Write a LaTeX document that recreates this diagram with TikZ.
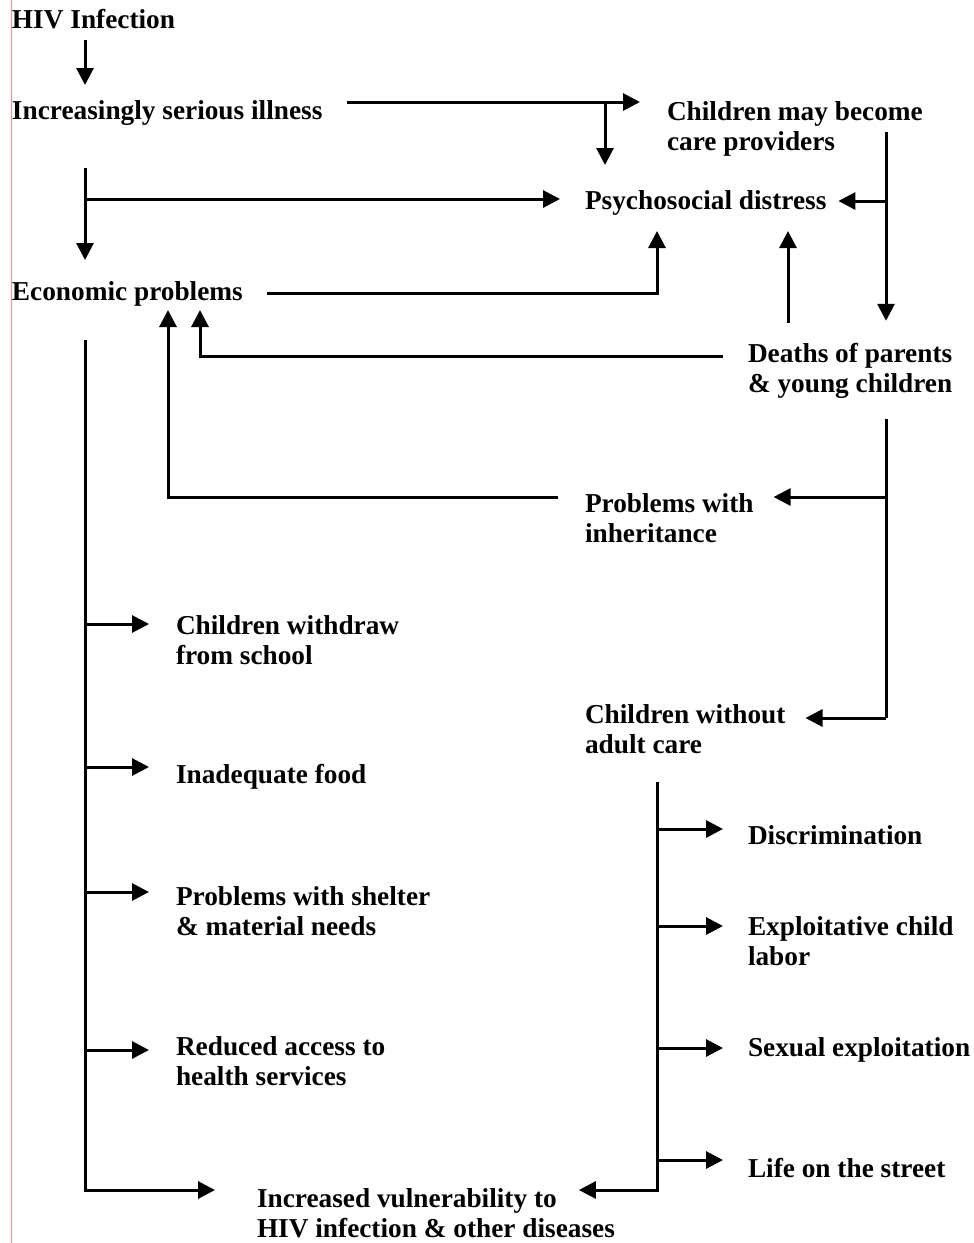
\documentclass[tikz,border=0pt]{standalone}
\usepackage{fontspec}
\setmainfont{Liberation Serif}
\usetikzlibrary{arrows.meta,positioning,calc}

\begin{document}
\begin{tikzpicture}[x=1pt,y=-1pt]
\tikzset{testo/.style={font=\bfseries\fontsize{27.3}{30}\selectfont, align=left, inner sep=0pt, outer sep=0pt, anchor=base west}, }
\tikzset{filo/.style={line width=3pt}, }
\tikzset{linea/.style={filo,-{Triangle[length=17pt,width=17pt]}}, }
\definecolor{rosa}{RGB}{236,150,150}
\tikzset{bordo/.style={line width=1pt, draw=rosa}, }

\useasboundingbox (0,0) rectangle (974,1243);
\draw[bordo] (11,0) -- (11,1243);

% testi (base = ultima riga)
\node[testo] (hiv) at (12,28) {HIV Infection};
\node[testo] (illness) at (12,119) {Increasingly serious illness};
\node[testo] (carers) at (667,150) {Children may become\\care providers};
\node[testo] (distress) at (585,209) {Psychosocial distress};
\node[testo] (economic) at (12,300) {Economic problems};
\node[testo] (deaths) at (748,392) {Deaths of parents\\\& young children};
\node[testo] (inherit) at (585,542) {Problems with\\inheritance};
\node[testo] (withdraw) at (176,664) {Children withdraw\\from school};
\node[testo] (nocare) at (585,753) {Children without\\adult care};
\node[testo] (food) at (176,783) {Inadequate food};
\node[testo] (discrim) at (748,844) {Discrimination};
\node[testo] (shelter) at (176,935) {Problems with shelter\\\& material needs};
\node[testo] (labor) at (748,965) {Exploitative child\\labor};
\node[testo] (health) at (176,1085) {Reduced access to\\health services};
\node[testo] (sexual) at (748,1056) {Sexual exploitation};
\node[testo] (street) at (748,1177) {Life on the street};
\node[testo] (vulner) at (257,1237) {Increased vulnerability to\\HIV infection \& other diseases};

% incroci
\coordinate (j1) at (605,102);
\coordinate (j2) at (85,199);
\coordinate (j3) at (657,293);
\coordinate (j4) at (886,201);
\coordinate (j5) at (200,356);
\coordinate (j6) at (886,497);
\coordinate (j7) at (168,497);
\coordinate (j8) at (886,718);
\coordinate (j9) at (85,1190);
\coordinate (j10) at (657,1190);
\coordinate (jm) at (788,0);

% frecce
\draw[linea, shorten <=12pt, shorten >=34pt] (hiv.base -| j2) -- (illness.base -| j2);
\draw[linea, shorten <=25pt, shorten >=27pt] (illness.east |- j1) -- (carers.west |- j1);
\draw[linea, shorten >=44pt] (j1) -- (j1 |- distress.base);
\draw[linea, shorten <=49pt, shorten >=40pt] (j2 |- illness.base) -- (j2 |- economic.base);
\draw[linea, shorten >=25pt] (j2) -- (distress.west |- j2);
\draw[linea, shorten <=24pt, shorten >=22pt] (economic.east |- j3) -- (j3) -- (j3 |- distress.base);
\draw[linea, shorten <=31pt, shorten >=22pt] (j4 |- carers.north) -- (j4 |- deaths.north);
\draw[linea, shorten >=12pt] (j4) -- (distress.east |- j4);
\draw[linea, shorten <=20pt, shorten >=22pt] (jm |- deaths.north) -- (jm |- distress.base);
\draw[linea, shorten <=25pt, shorten >=10pt] (deaths.west |- j5) -- (j5) -- (j5 |- economic.base);
\draw[filo, shorten <=27pt] (j6 |- deaths.base) -- (j8);
\draw[linea] (j6) -- ($(inherit.east |- j6)+(20,0)$);
\draw[linea] (j8) -- ($(nocare.east |- j8)+(20,0)$);
\draw[linea, shorten <=27pt, shorten >=10pt] (inherit.west |- j7) -- (j7) -- (j7 |- economic.base);
\draw[linea, shorten <=40pt, shorten >=42pt] (j9 |- economic.base) -- (j9) -- (vulner.west |- j9);
\foreach \n/\y in {withdraw/624, food/767, shelter/892, health/1050}
  \draw[linea, shorten >=27pt] (j9 |- 0,\y) -- (\n.west |- 0,\y);
\draw[linea, shorten <=29pt] (j10 |- nocare.base) -- (j10) -- ($(vulner.east |- j10)+(-36,0)$);
\foreach \n/\y in {discrim/829, labor/926, sexual/1048, street/1160}
  \draw[linea, shorten >=25pt] (j10 |- 0,\y) -- (\n.west |- 0,\y);
\end{tikzpicture}
\end{document}
